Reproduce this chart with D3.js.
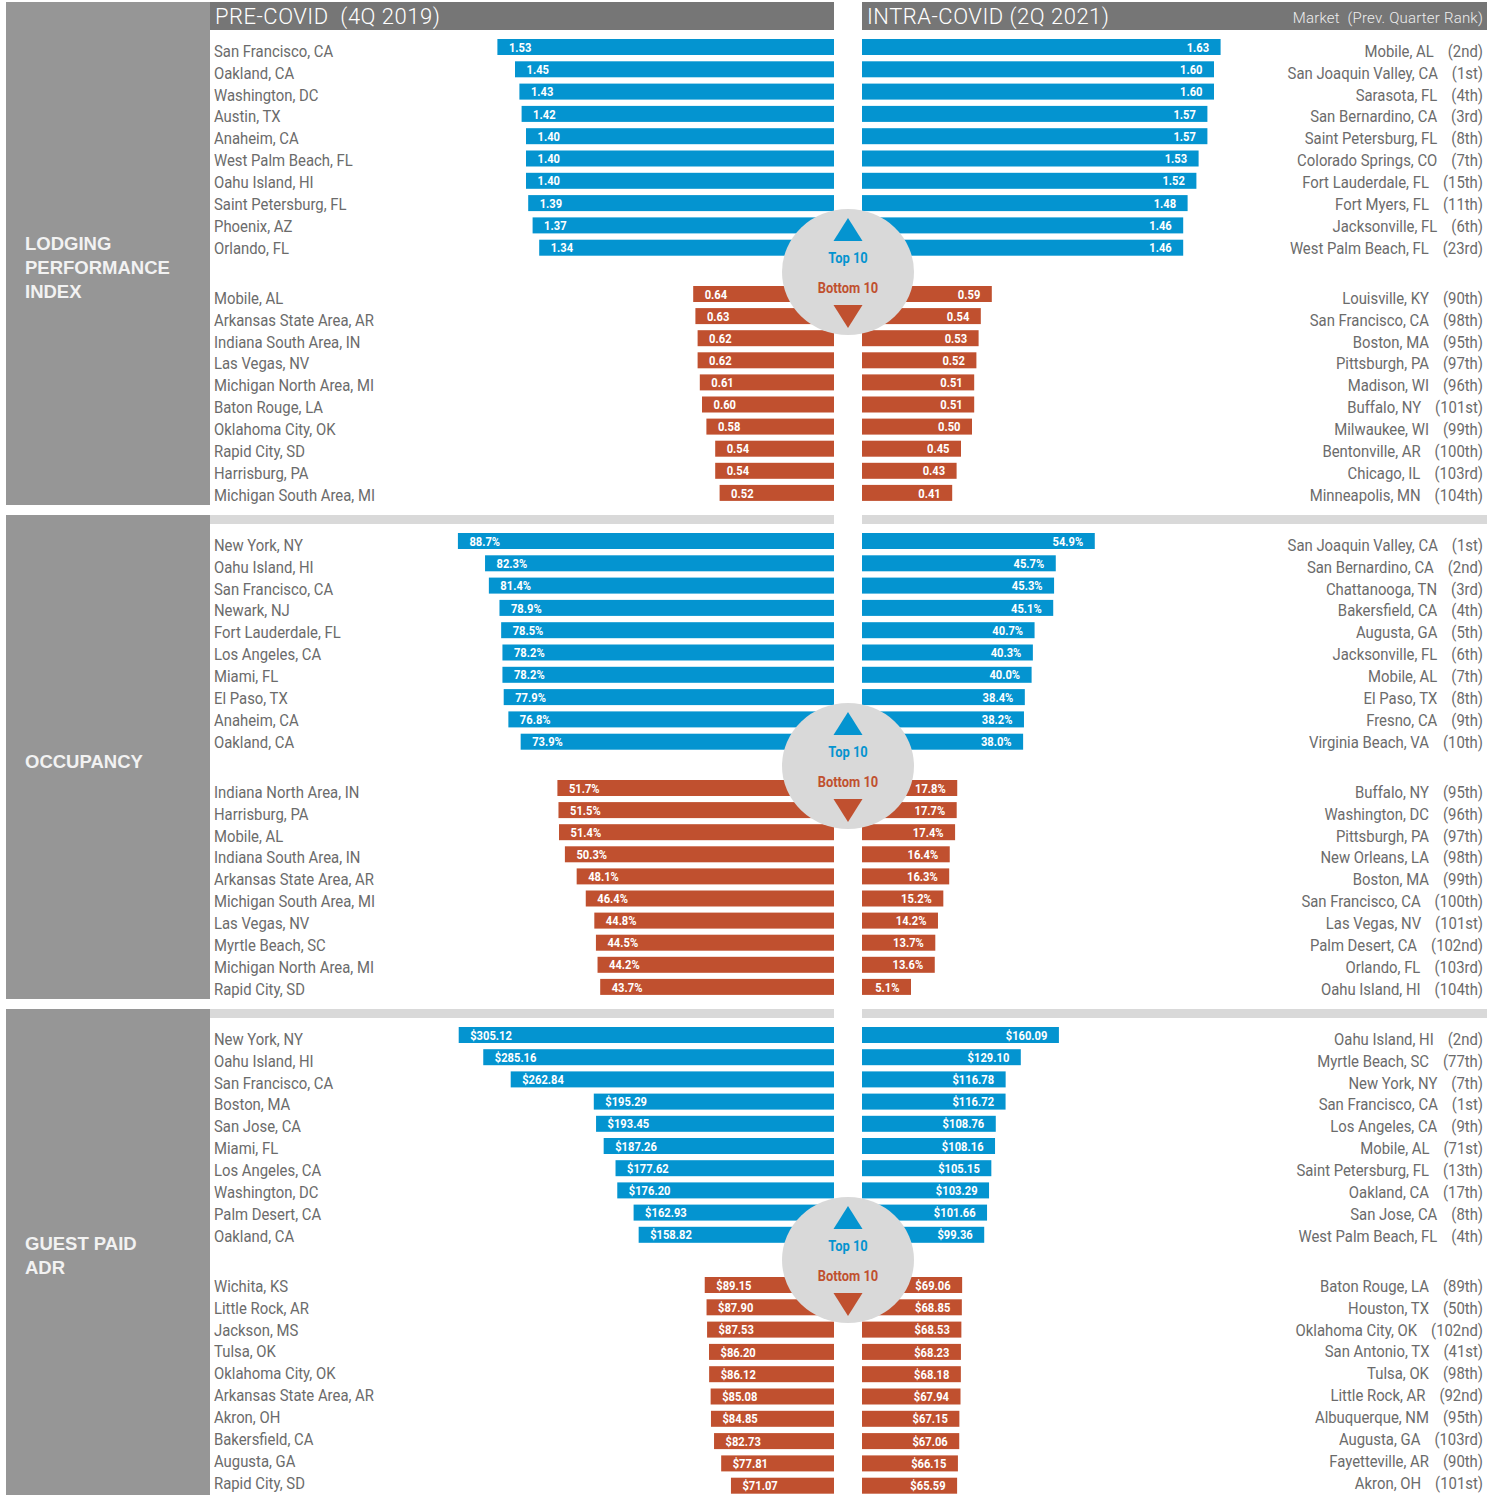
<!DOCTYPE html>
<html>
<head>
<meta charset="utf-8">
<script src="https://cdn.jsdelivr.net/npm/d3@7"></script>
<style>
  body { margin: 0; background: #fff; }
  svg text { font-family: Roboto, "Noto Sans", sans-serif; }
</style>
</head>
<body>
<div id="chart"></div>
<script>
// ---- data: lodging performance index ----
const piPreTop = ["San Francisco, CA", "Oakland, CA", "Washington, DC", "Austin, TX", "Anaheim, CA",
  "West Palm Beach, FL", "Oahu Island, HI", "Saint Petersburg, FL", "Phoenix, AZ", "Orlando, FL"];
const piPreTopVal = [1.53, 1.45, 1.43, 1.42, 1.40, 1.40, 1.40, 1.39, 1.37, 1.34];
const piPreBot = ["Mobile, AL", "Arkansas State Area, AR", "Indiana South Area, IN", "Las Vegas, NV",
  "Michigan North Area, MI", "Baton Rouge, LA", "Oklahoma City, OK", "Rapid City, SD", "Harrisburg, PA",
  "Michigan South Area, MI"];
const piPreBotVal = [0.64, 0.63, 0.62, 0.62, 0.61, 0.60, 0.58, 0.54, 0.54, 0.52];
const piNowTop = ["Mobile, AL", "San Joaquin Valley, CA", "Sarasota, FL", "San Bernardino, CA",
  "Saint Petersburg, FL", "Colorado Springs, CO", "Fort Lauderdale, FL", "Fort Myers, FL",
  "Jacksonville, FL", "West Palm Beach, FL"];
const piNowTopRank = ["2nd", "1st", "4th", "3rd", "8th", "7th", "15th", "11th", "6th", "23rd"];
const piNowTopVal = [1.63, 1.60, 1.60, 1.57, 1.57, 1.53, 1.52, 1.48, 1.46, 1.46];
const piNowBot = ["Louisville, KY", "San Francisco, CA", "Boston, MA", "Pittsburgh, PA", "Madison, WI",
  "Buffalo, NY", "Milwaukee, WI", "Bentonville, AR", "Chicago, IL", "Minneapolis, MN"];
const piNowBotRank = ["90th", "98th", "95th", "97th", "96th", "101st", "99th", "100th", "103rd", "104th"];
const piNowBotVal = [0.59, 0.54, 0.53, 0.52, 0.51, 0.51, 0.50, 0.45, 0.43, 0.41];

// ---- data: occupancy (%) ----
const occPreTop = ["New York, NY", "Oahu Island, HI", "San Francisco, CA", "Newark, NJ", "Fort Lauderdale, FL",
  "Los Angeles, CA", "Miami, FL", "El Paso, TX", "Anaheim, CA", "Oakland, CA"];
const occPreTopVal = [88.7, 82.3, 81.4, 78.9, 78.5, 78.2, 78.2, 77.9, 76.8, 73.9];
const occPreBot = ["Indiana North Area, IN", "Harrisburg, PA", "Mobile, AL", "Indiana South Area, IN",
  "Arkansas State Area, AR", "Michigan South Area, MI", "Las Vegas, NV", "Myrtle Beach, SC",
  "Michigan North Area, MI", "Rapid City, SD"];
const occPreBotVal = [51.7, 51.5, 51.4, 50.3, 48.1, 46.4, 44.8, 44.5, 44.2, 43.7];
const occNowTop = ["San Joaquin Valley, CA", "San Bernardino, CA", "Chattanooga, TN", "Bakersfield, CA",
  "Augusta, GA", "Jacksonville, FL", "Mobile, AL", "El Paso, TX", "Fresno, CA", "Virginia Beach, VA"];
const occNowTopRank = ["1st", "2nd", "3rd", "4th", "5th", "6th", "7th", "8th", "9th", "10th"];
const occNowTopVal = [54.9, 45.7, 45.3, 45.1, 40.7, 40.3, 40.0, 38.4, 38.2, 38.0];
const occNowBot = ["Buffalo, NY", "Washington, DC", "Pittsburgh, PA", "New Orleans, LA", "Boston, MA",
  "San Francisco, CA", "Las Vegas, NV", "Palm Desert, CA", "Orlando, FL", "Oahu Island, HI"];
const occNowBotRank = ["95th", "96th", "97th", "98th", "99th", "100th", "101st", "102nd", "103rd", "104th"];
const occNowBotVal = [17.8, 17.7, 17.4, 16.4, 16.3, 15.2, 14.2, 13.7, 13.6, 5.1];

// ---- data: guest paid ADR ($) ----
const adrPreTop = ["New York, NY", "Oahu Island, HI", "San Francisco, CA", "Boston, MA", "San Jose, CA",
  "Miami, FL", "Los Angeles, CA", "Washington, DC", "Palm Desert, CA", "Oakland, CA"];
const adrPreTopVal = [305.12, 285.16, 262.84, 195.29, 193.45, 187.26, 177.62, 176.20, 162.93, 158.82];
const adrPreBot = ["Wichita, KS", "Little Rock, AR", "Jackson, MS", "Tulsa, OK", "Oklahoma City, OK",
  "Arkansas State Area, AR", "Akron, OH", "Bakersfield, CA", "Augusta, GA", "Rapid City, SD"];
const adrPreBotVal = [89.15, 87.90, 87.53, 86.20, 86.12, 85.08, 84.85, 82.73, 77.81, 71.07];
const adrNowTop = ["Oahu Island, HI", "Myrtle Beach, SC", "New York, NY", "San Francisco, CA",
  "Los Angeles, CA", "Mobile, AL", "Saint Petersburg, FL", "Oakland, CA", "San Jose, CA",
  "West Palm Beach, FL"];
const adrNowTopRank = ["2nd", "77th", "7th", "1st", "9th", "71st", "13th", "17th", "8th", "4th"];
const adrNowTopVal = [160.09, 129.10, 116.78, 116.72, 108.76, 108.16, 105.15, 103.29, 101.66, 99.36];
const adrNowBot = ["Baton Rouge, LA", "Houston, TX", "Oklahoma City, OK", "San Antonio, TX", "Tulsa, OK",
  "Little Rock, AR", "Albuquerque, NM", "Augusta, GA", "Fayetteville, AR", "Akron, OH"];
const adrNowBotRank = ["89th", "50th", "102nd", "41st", "98th", "92nd", "95th", "103rd", "90th", "101st"];
const adrNowBotVal = [69.06, 68.85, 68.53, 68.23, 68.18, 67.94, 67.15, 67.06, 66.15, 65.59];

const headLeft = "PRE-COVID  (4Q 2019)";
const headRight = "INTRA-COVID (2Q 2021)";
const headNote = "Market  (Prev. Quarter Rank)";

// ---- layout / style ----
const BLUE = "#0494d0", RED = "#c0502f", PANEL = "#969696", HEAD = "#767676",
      BAND = "#d9d9d9", TXT = "#6b6b6b";
const LX0 = 210, LX1 = 834, RX0 = 862, RX1 = 1487;
const BAR_H = 16;
const SX = 0.86;   // condensed look for bar values
const SXN = 0.93;  // condensed look for market names

const fmt2 = d3.format(".2f"), fmt1 = d3.format(".1f");

// bar rows and text rows are spaced a little differently in the original
const sections = [
  { title: ["LODGING", "PERFORMANCE", "INDEX"], top: 21, panel: [2, 505],
    barTop: [26, 22.3], barBot: [273, 22.1],
    fmt: d => fmt2(d),
    xTop: d3.scaleLinear().domain([0, 1]).range([0, 220]),
    xBot: d3.scaleLinear().domain([0, 1]).range([0, 220]),
    pre: [piPreTop, piPreTopVal, piPreBot, piPreBotVal],
    now: [piNowTop, piNowTopVal, piNowTopRank, piNowBot, piNowBotVal, piNowBotRank] },
  { title: ["OCCUPANCY"], top: 515, panel: [515, 999],
    barTop: [26, 22.3], barBot: [273, 22.1],
    fmt: d => fmt1(d) + "%",
    xTop: d3.scaleLinear().domain([0, 100]).range([0, 424]),
    xBot: d3.scaleLinear().domain([0, 100]).range([0, 535]),
    pre: [occPreTop, occPreTopVal, occPreBot, occPreBotVal],
    now: [occNowTop, occNowTopVal, occNowTopRank, occNowBot, occNowBotVal, occNowBotRank] },
  { title: ["GUEST PAID", "ADR"], top: 1009, panel: [1009, 1495],
    barTop: [26, 22.2], barBot: [276, 22.3],
    fmt: d => "$" + fmt2(d),
    xTop: d3.scaleLinear().domain([0, 100]).range([0, 123]),
    xBot: d3.scaleLinear().domain([0, 100]).range([0, 145]),
    pre: [adrPreTop, adrPreTopVal, adrPreBot, adrPreBotVal],
    now: [adrNowTop, adrNowTopVal, adrNowTopRank, adrNowBot, adrNowBotVal, adrNowBotRank] }
];
const TEXT_TOP = 30, TEXT_BOT = 277, TEXT_STEP = 21.9;

const svg = d3.select("#chart").append("svg")
  .attr("width", 1498).attr("height", 1495);

function squeeze(sel, x, y, s) {
  sel.attr("transform", `translate(${x},${y}) scale(${s},1)`);
}
const rowScale = (start, step) => d3.scalePoint().domain(d3.range(10)).range([start, start + 9 * step]);

sections.forEach((s, k) => {
  const g = svg.append("g");
  const T = s.top;

  // left grey panel + title
  g.append("rect").attr("x", 6).attr("y", s.panel[0])
    .attr("width", 204).attr("height", s.panel[1] - s.panel[0]).attr("fill", PANEL);
  const midY = T + 246 - (s.title.length - 1) * 12;
  s.title.forEach((t, i) => {
    g.append("text").attr("x", 25).attr("y", midY + i * 24 + 7)
      .style("font-family", "'Liberation Sans', Arial, sans-serif")
      .style("font-weight", "bold").style("font-size", "18.5px")
      .attr("fill", "#f2f2f2").text(t);
  });

  // header band / light band
  if (k === 0) {
    g.append("rect").attr("x", LX0).attr("y", 2).attr("width", LX1 - LX0).attr("height", 28).attr("fill", HEAD);
    g.append("rect").attr("x", RX0).attr("y", 2).attr("width", RX1 - RX0).attr("height", 28).attr("fill", HEAD);
    g.append("text").attr("x", 215).attr("y", 24).attr("fill", "#fff")
      .style("font-size", "22px").style("font-weight", 300).style("letter-spacing", "0.5px")
      .style("white-space", "pre").text(headLeft);
    g.append("text").attr("x", 867).attr("y", 24).attr("fill", "#fff")
      .style("font-size", "22px").style("font-weight", 300).style("letter-spacing", "0.5px")
      .style("white-space", "pre").text(headRight);
    g.append("text").attr("x", 1483).attr("y", 23).attr("text-anchor", "end").attr("fill", "#eee")
      .style("font-size", "15px").style("font-weight", 300).style("letter-spacing", "0.2px")
      .style("white-space", "pre").text(headNote);
  } else {
    g.append("rect").attr("x", LX0).attr("y", T).attr("width", LX1 - LX0).attr("height", 9).attr("fill", BAND);
    g.append("rect").attr("x", RX0).attr("y", T).attr("width", RX1 - RX0).attr("height", 9).attr("fill", BAND);
  }

  const yTop = rowScale(T + s.barTop[0], s.barTop[1]);
  const yBot = rowScale(T + s.barBot[0], s.barBot[1]);
  const tTop = rowScale(T + TEXT_TOP, TEXT_STEP);
  const tBot = rowScale(T + TEXT_BOT, TEXT_STEP);

  const groups = [
    { names: s.pre[0], vals: s.pre[1], y: yTop, ty: tTop, x: s.xTop, color: BLUE },
    { names: s.pre[2], vals: s.pre[3], y: yBot, ty: tBot, x: s.xBot, color: RED }
  ];
  const groupsR = [
    { names: s.now[0], vals: s.now[1], ranks: s.now[2], y: yTop, ty: tTop, x: s.xTop, color: BLUE },
    { names: s.now[3], vals: s.now[4], ranks: s.now[5], y: yBot, ty: tBot, x: s.xBot, color: RED }
  ];
  const w = (sc, v) => Math.max(sc(v), 49);

  groups.forEach(gr => {
    const rows = gr.names.map((n, i) => ({ i, n, v: gr.vals[i] }));
    g.selectAll(null).data(rows).join("rect")
      .attr("x", d => LX1 - w(gr.x, d.v)).attr("y", d => gr.y(d.i) - BAR_H / 2)
      .attr("width", d => w(gr.x, d.v)).attr("height", BAR_H).attr("fill", gr.color);
    g.selectAll(null).data(rows).join("text")
      .each(function(d) { squeeze(d3.select(this), LX1 - w(gr.x, d.v) + 11.5, gr.y(d.i) + 4.6, SX); })
      .attr("fill", "#fff").style("font-weight", "bold").style("font-size", "13px")
      .text(d => s.fmt(d.v));
    g.selectAll(null).data(rows).join("text")
      .each(function(d) { squeeze(d3.select(this), 214, gr.ty(d.i) + 5.7, SXN); })
      .attr("fill", TXT).style("font-size", "16px").text(d => d.n);
  });

  groupsR.forEach(gr => {
    const rows = gr.names.map((n, i) => ({ i, n, v: gr.vals[i], r: gr.ranks[i] }));
    g.selectAll(null).data(rows).join("rect")
      .attr("x", RX0).attr("y", d => gr.y(d.i) - BAR_H / 2)
      .attr("width", d => w(gr.x, d.v)).attr("height", BAR_H).attr("fill", gr.color);
    g.selectAll(null).data(rows).join("text")
      .each(function(d) { squeeze(d3.select(this), RX0 + w(gr.x, d.v) - 11.5, gr.y(d.i) + 4.6, SX); })
      .attr("text-anchor", "end")
      .attr("fill", "#fff").style("font-weight", "bold").style("font-size", "13px")
      .text(d => s.fmt(d.v));
    const t = g.selectAll(null).data(rows).join("text")
      .each(function(d) { squeeze(d3.select(this), 1483, gr.ty(d.i) + 5.7, SXN); })
      .attr("text-anchor", "end").attr("fill", TXT).style("font-size", "16px");
    t.append("tspan").text(d => d.n);
    t.append("tspan").attr("dx", 14 / SXN).text(d => "(" + d.r + ")");
  });

  // Top 10 / Bottom 10 badge
  const cy = T + 251, cx = 848;
  g.append("ellipse").attr("cx", cx).attr("cy", cy).attr("rx", 66).attr("ry", 63).attr("fill", BAND);
  g.append("path").attr("d", `M${cx},${cy - 54}L${cx + 14.5},${cy - 31}L${cx - 14.5},${cy - 31}Z`).attr("fill", BLUE);
  g.append("path").attr("d", `M${cx},${cy + 56}L${cx + 14.5},${cy + 33}L${cx - 14.5},${cy + 33}Z`).attr("fill", RED);
  squeeze(g.append("text").attr("text-anchor", "middle").attr("fill", BLUE)
    .style("font-weight", "bold").style("font-size", "15px").text("Top 10"), cx, cy - 9, 0.86);
  squeeze(g.append("text").attr("text-anchor", "middle").attr("fill", RED)
    .style("font-weight", "bold").style("font-size", "15px").text("Bottom 10"), cx, cy + 20.5, 0.86);
});
</script>
</body>
</html>
